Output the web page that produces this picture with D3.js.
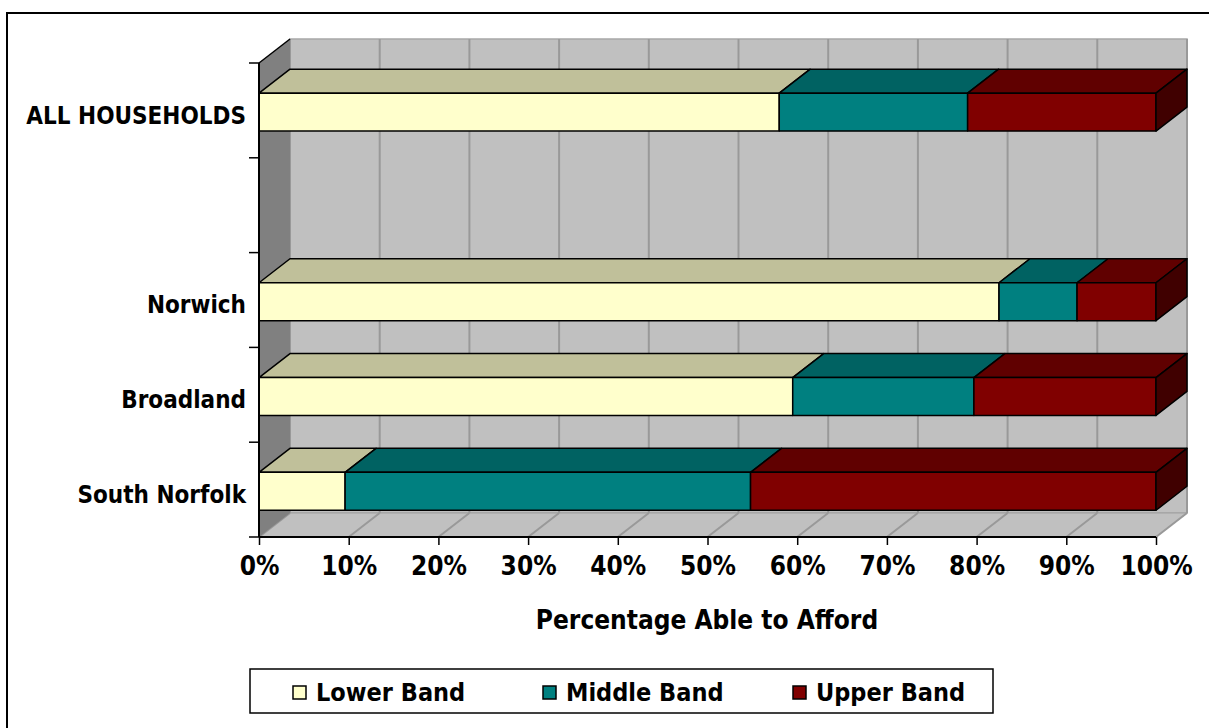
<!DOCTYPE html>
<html>
<head>
<meta charset="utf-8">
<script src="https://cdn.jsdelivr.net/npm/d3@7"></script>
<style>
  html, body { margin: 0; padding: 0; background: #fff; }
  svg { display: block; }
  text { font-family: "DejaVu Sans Condensed", "DejaVu Sans", sans-serif; font-stretch: condensed; font-weight: bold; fill: #000; }
</style>
</head>
<body>
<svg id="chart" width="1209" height="728"></svg>
<script>
// Categories from top to bottom (blank row separates the total from the districts)
const categories = ["ALL HOUSEHOLDS", "", "Norwich", "Broadland", "South Norfolk"];
const seriesNames = ["Lower Band", "Middle Band", "Upper Band"];
const lowerBand  = [58.0, null, 82.5, 59.5, 9.6];
const middleBand = [21.0, null, 8.7, 20.2, 45.2];
const upperBand  = [21.0, null, 8.8, 20.3, 45.2];
const tickValues = [0, 10, 20, 30, 40, 50, 60, 70, 80, 90, 100];

// Face colours: front, top, side
const frontColors = ["#FFFFCC", "#008080", "#800000"];
const topColors   = ["#C0C09A", "#006262", "#600000"];
const sideColors  = ["#9a9a7a", "#004848", "#400000"];

const FONT = '"DejaVu Sans Condensed", "DejaVu Sans", sans-serif';
const svg = d3.select("#chart");

// Front plane of the plot and the 3D depth offset
const plotLeft = 259, plotRight = 1156, plotTop = 63, plotBottom = 537;
const DX = 31, DY = -24;

const x = d3.scaleLinear().domain([0, 100]).range([plotLeft, plotRight]);
const y = d3.scaleBand().domain(categories).range([plotTop, plotBottom])
  .paddingInner(0.6).paddingOuter(0.3).align(0.53);

// Outer chart border
svg.append("rect").attr("x", 7).attr("y", 13).attr("width", 1260).attr("height", 760)
  .attr("fill", "#fff").attr("stroke", "#000").attr("stroke-width", 2);

const poly = pts => pts.map(p => p.join(",")).join(" ");

// Back wall
svg.append("polygon")
  .attr("points", poly([[plotLeft + DX, plotTop + DY], [plotRight + DX, plotTop + DY],
                        [plotRight + DX, plotBottom + DY], [plotLeft + DX, plotBottom + DY]]))
  .attr("fill", "#C0C0C0").attr("stroke", "#a8a8a8").attr("stroke-width", 1.5);

// Floor
svg.append("polygon")
  .attr("points", poly([[plotLeft, plotBottom], [plotRight, plotBottom],
                        [plotRight + DX, plotBottom + DY], [plotLeft + DX, plotBottom + DY]]))
  .attr("fill", "#C0C0C0").attr("stroke", "#a0a0a0").attr("stroke-width", 1);

// Gridlines on back wall and floor
const grid = svg.append("g").attr("stroke", "#999999").attr("stroke-width", 2);
grid.selectAll("line.wall").data(tickValues).join("line").attr("class", "wall")
  .attr("x1", d => x(d) + DX).attr("x2", d => x(d) + DX)
  .attr("y1", plotTop + DY).attr("y2", plotBottom + DY);
grid.selectAll("line.floor").data(tickValues).join("line").attr("class", "floor")
  .attr("x1", d => x(d)).attr("x2", d => x(d) + DX)
  .attr("y1", plotBottom).attr("y2", plotBottom + DY);

// Left side wall
svg.append("polygon")
  .attr("points", poly([[plotLeft, plotTop], [plotLeft + DX, plotTop + DY],
                        [plotLeft + DX, plotBottom + DY], [plotLeft, plotBottom]]))
  .attr("fill", "#808080");
svg.append("line").attr("x1", plotLeft).attr("y1", plotTop)
  .attr("x2", plotLeft + DX).attr("y2", plotTop + DY)
  .attr("stroke", "#000").attr("stroke-width", 1.5);

// Stacked 100% bars
const valueSeries = [lowerBand, middleBand, upperBand];
const rows = categories.map((c, i) => {
  const vals = valueSeries.map(s => s[i]);
  if (vals.some(v => v == null)) return null;
  const total = d3.sum(vals);
  let acc = 0;
  const segs = vals.map((v, k) => {
    const s = { k, x0: acc / total * 100, x1: (acc + v) / total * 100 };
    acc += v;
    return s;
  });
  return { cat: c, segs };
}).filter(Boolean);

const bars = svg.append("g").attr("stroke", "#000").attr("stroke-width", 1.5)
  .attr("stroke-linejoin", "round");
rows.forEach(r => {
  const y0 = y(r.cat), y1 = y(r.cat) + y.bandwidth();
  const g = bars.append("g");
  r.segs.forEach((s, idx) => {
    const a = x(s.x0), b = x(s.x1);
    g.append("polygon")
      .attr("points", poly([[a, y0], [a + DX, y0 + DY], [b + DX, y0 + DY], [b, y0]]))
      .attr("fill", topColors[s.k]);
    g.append("rect").attr("x", a).attr("y", y0).attr("width", b - a).attr("height", y1 - y0)
      .attr("fill", frontColors[s.k]);
    if (idx === r.segs.length - 1) {
      g.append("polygon")
        .attr("points", poly([[b, y0], [b + DX, y0 + DY], [b + DX, y1 + DY], [b, y1]]))
        .attr("fill", sideColors[s.k]);
    }
  });
});

// Category axis (labels at band centres, ticks at band boundaries)
const yAxis = svg.append("g").attr("transform", `translate(${plotLeft},0)`)
  .call(d3.axisLeft(y).tickSize(0).tickPadding(13));
yAxis.select(".domain").remove();
yAxis.selectAll("text").attr("font-size", 24).attr("y", 3).attr("dy", "0.36em")
  .style("font-family", FONT).style("font-weight", "bold");
const boundaries = d3.range(categories.length + 1)
  .map(i => plotTop + i * (plotBottom - plotTop) / categories.length);
svg.append("g").selectAll("line").data(boundaries).join("line")
  .attr("x1", plotLeft - 10).attr("x2", plotLeft).attr("y1", d => d).attr("y2", d => d)
  .attr("stroke", "#000").attr("stroke-width", 1.5);
svg.append("line").attr("x1", plotLeft).attr("x2", plotLeft)
  .attr("y1", plotTop).attr("y2", plotBottom)
  .attr("stroke", "#000").attr("stroke-width", 2);

// Value axis
const xAxis = svg.append("g").attr("transform", `translate(0,${plotBottom})`)
  .call(d3.axisBottom(x).tickValues(tickValues).tickFormat(d => d + "%").tickSize(8).tickPadding(6));
xAxis.select(".domain").attr("stroke-width", 2).attr("d", `M${plotLeft},0H${plotRight}`);
xAxis.selectAll(".tick line").attr("stroke-width", 1.5);
xAxis.selectAll("text").attr("font-size", 26).attr("dy", "0.92em")
  .style("font-family", FONT).style("font-weight", "bold");

// Axis title
svg.append("text").attr("x", 707).attr("y", 629).attr("text-anchor", "middle")
  .attr("font-size", 26).text("Percentage Able to Afford");

// Legend
const legend = svg.append("g");
legend.append("rect").attr("x", 250).attr("y", 669).attr("width", 743).attr("height", 44)
  .attr("fill", "#fff").attr("stroke", "#000").attr("stroke-width", 1.5);
const items = legend.selectAll("g.item").data(seriesNames).join("g").attr("class", "item")
  .attr("transform", (d, i) => `translate(${293 + i * 250},0)`);
items.append("rect").attr("x", 0).attr("y", 686).attr("width", 13).attr("height", 13)
  .attr("fill", (d, i) => frontColors[i]).attr("stroke", "#000").attr("stroke-width", 1.5);
items.append("text").attr("x", 23).attr("y", 701).attr("font-size", 25).text(d => d);
</script>
</body>
</html>
